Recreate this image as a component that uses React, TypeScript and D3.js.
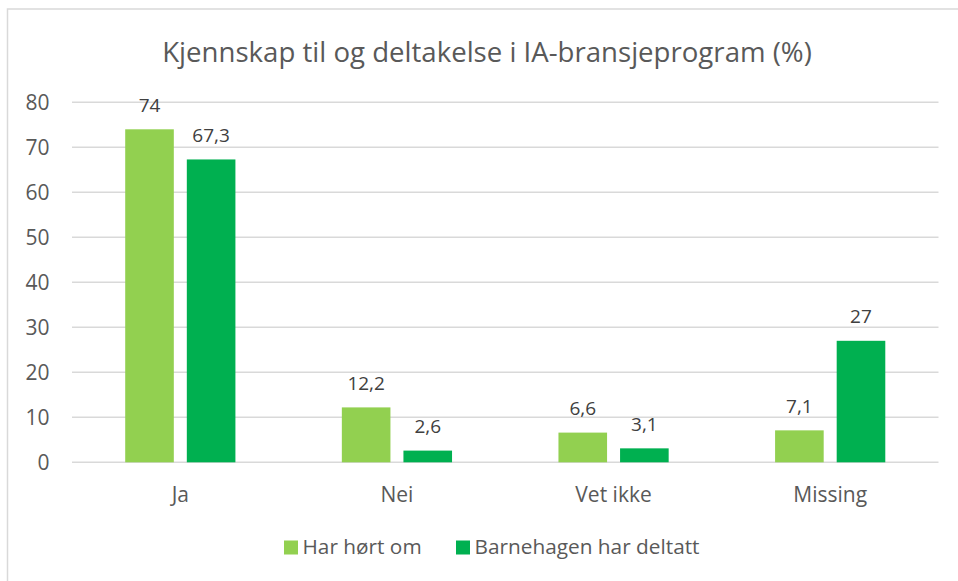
import React from "react";
import * as d3 from "d3";

const title = "Kjennskap til og deltakelse i IA-bransjeprogram (%)";
const categories = ["Ja", "Nei", "Vet ikke", "Missing"];
const seriesNames = ["Har hørt om", "Barnehagen har deltatt"];
const harHortOm = [74, 12.2, 6.6, 7.1];
const barnehagenDeltatt = [67.3, 2.6, 3.1, 27];
const yTicks = [0, 10, 20, 30, 40, 50, 60, 70, 80];
const colors = ["#92D050", "#00B050"];

const W = 958;
const H = 581;
const FONT = "'Open Sans', sans-serif";
const TEXT = "#595959";

export default function App() {
  const left = 72;
  const right = 938.5;
  const y0 = 462.3;
  const y80 = 102.3;

  const x = d3.scaleBand<string>().domain(categories).range([left, right]).padding(0);
  const y = d3.scaleLinear().domain([0, 80]).range([y0, y80]);
  const barW = 48.6;
  const gap = 13;
  const series = [harHortOm, barnehagenDeltatt];
  const fmt = (v: number) => String(v).replace(".", ",");

  return (
    <svg
      width={W}
      height={H}
      style={{ position: "absolute", left: 0, top: 0, background: "#fff" }}
    >
      <rect x={0} y={0} width={W} height={H} fill="#fff" />
      <rect x={7.5} y={9} width={W + 50} height={H + 50} fill="#fff" stroke="#d9d9d9" strokeWidth={1.5} />
      <text x={487} y={61.5} textAnchor="middle" fontFamily={FONT} fontSize={27.6} fill={TEXT}>
        {title}
      </text>
      {yTicks.map((t) => (
        <g key={t}>
          <line x1={left} x2={right} y1={y(t)} y2={y(t)} stroke="#d9d9d9" strokeWidth={1.5} />
          <text x={49.5} y={y(t)} dy="0.36em" textAnchor="end" fontFamily={FONT} fontSize={21} fill={TEXT}>
            {t}
          </text>
        </g>
      ))}
      {categories.map((c, i) => {
        const cx = (x(c) as number) + x.bandwidth() / 2;
        return (
          <g key={c}>
            {series.map((s, si) => {
              const bx = si === 0 ? cx - gap / 2 - barW : cx + gap / 2;
              const v = s[i];
              return (
                <g key={si}>
                  <rect x={bx} y={y(v)} width={barW} height={y0 - y(v)} fill={colors[si]} />
                  <text
                    x={bx + barW / 2}
                    y={y(v) - 17.5}
                    textAnchor="middle"
                    fontFamily={FONT}
                    fontSize={19}
                    fill="#404040"
                  >
                    {fmt(v)}
                  </text>
                </g>
              );
            })}
            <text x={cx} y={501.5} textAnchor="middle" fontFamily={FONT} fontSize={21} fill={TEXT}>
              {c}
            </text>
          </g>
        );
      })}
      <g>
        <rect x={284} y={540.5} width={14} height={14} fill={colors[0]} />
        <text x={302.5} y={554} fontFamily={FONT} fontSize={20.8} fill={TEXT}>
          {seriesNames[0]}
        </text>
        <rect x={456} y={540.5} width={14} height={14} fill={colors[1]} />
        <text x={474.5} y={554} fontFamily={FONT} fontSize={20.8} fill={TEXT}>
          {seriesNames[1]}
        </text>
      </g>
    </svg>
  );
}
